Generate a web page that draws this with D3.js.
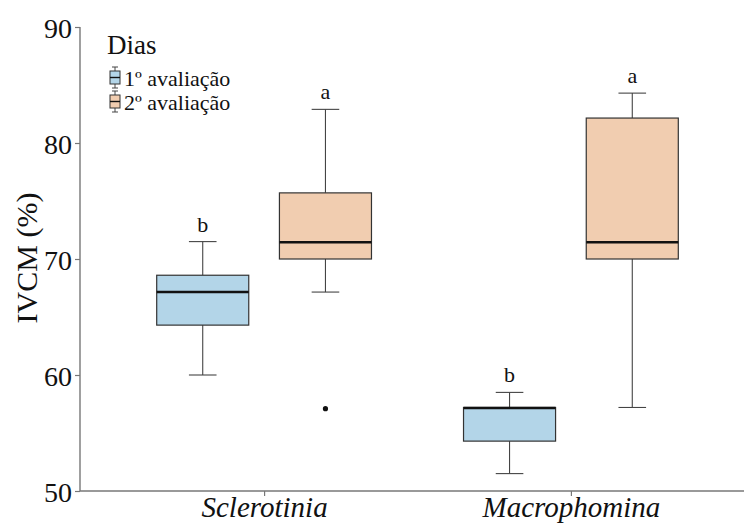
<!DOCTYPE html>
<html>
<head>
<meta charset="utf-8">
<script src="https://d3js.org/d3.v7.min.js"></script>
<style>
  body { margin: 0; background: white; }
  svg text { font-family: "Liberation Serif", "Times New Roman", serif; fill: #111; }
</style>
</head>
<body>
<svg id="chart" width="744" height="523"></svg>
<script>
// pathogen on x, evaluation day as fill
var categories = ["Sclerotinia", "Macrophomina"];
var groups = ["1º avaliação", "2º avaliação"];
var fills = ["#b3d5e8", "#f1cdb0"];

// box stats per group, one entry per category: [lower, q1, median, q3, upper]
var stats1 = [[60.0, 64.3, 67.15, 68.6, 71.5], [51.5, 54.3, 57.15, 57.2, 58.5]];
var stats2 = [[67.15, 70.0, 71.45, 75.7, 82.9], [57.2, 70.0, 71.45, 82.15, 84.3]];
var outliers1 = [[], []];
var outliers2 = [[57.1], []];
var letters1 = ["b", "b"];
var letters2 = ["a", "a"];

var yTicks = [50, 60, 70, 80, 90];

var svg = d3.select("#chart");
var mLeft = 80, mRight = 755, mTop = 27, mBottom = 491;

var x = d3.scalePoint().domain(categories).range([mLeft, mRight]).padding(0.6);
var y = d3.scaleLinear().domain([50, 90]).range([mBottom, mTop]);
var step = x.step();
var dodge = step * 0.2, boxW = step * 0.3, capW = step * 0.09;

var rows = [];
categories.forEach(function (c, i) {
  rows.push({cat: c, g: 0, s: stats1[i], out: outliers1[i], lab: letters1[i]});
  rows.push({cat: c, g: 1, s: stats2[i], out: outliers2[i], lab: letters2[i]});
});
rows.forEach(function (r) { r.cx = x(r.cat) + (r.g == 0 ? -dodge : dodge); });

// axes
var yAxis = svg.append("g").attr("transform", "translate(" + mLeft + ",0)")
  .call(d3.axisLeft(y).tickValues(yTicks).tickSize(5).tickPadding(3));
var xAxis = svg.append("g").attr("transform", "translate(0," + mBottom + ")")
  .call(d3.axisBottom(x).tickSize(5).tickPadding(2));
[yAxis, xAxis].forEach(function (a) {
  a.select(".domain").attr("stroke", "#777").attr("stroke-width", 1.4);
  a.selectAll(".tick line").attr("stroke", "#777").attr("stroke-width", 1.2);
});
yAxis.selectAll("text").attr("font-size", 28).attr("fill", "#111").attr("dy", "0.36em")
  .style("font-family", "Liberation Serif");
xAxis.selectAll("text").attr("font-size", 29).attr("font-style", "italic").attr("fill", "#111")
  .attr("dy", "0.66em").style("font-family", "Liberation Serif");
yAxis.select(".domain").attr("d", "M0," + mBottom + "V" + mTop);
xAxis.select(".domain").attr("d", "M" + mLeft + ",0H" + mRight);

svg.append("text")
  .attr("transform", "translate(37,258) rotate(-90)")
  .attr("text-anchor", "middle").attr("font-size", 30).text("IVCM (%)");

// boxes
var box = svg.selectAll("g.box").data(rows).join("g").attr("class", "box");
box.append("line")
  .attr("x1", d => d.cx).attr("x2", d => d.cx)
  .attr("y1", d => y(d.s[4])).attr("y2", d => y(d.s[3]))
  .attr("stroke", "#444").attr("stroke-width", 1.1);
box.append("line")
  .attr("x1", d => d.cx).attr("x2", d => d.cx)
  .attr("y1", d => y(d.s[1])).attr("y2", d => y(d.s[0]))
  .attr("stroke", "#444").attr("stroke-width", 1.1);
box.selectAll("line.cap").data(d => [d, d].map((e, k) => ({cx: e.cx, v: e.s[k * 4]})))
  .join("line").attr("class", "cap")
  .attr("x1", d => d.cx - capW / 2).attr("x2", d => d.cx + capW / 2)
  .attr("y1", d => y(d.v)).attr("y2", d => y(d.v))
  .attr("stroke", "#444").attr("stroke-width", 1.1);
box.append("rect")
  .attr("x", d => d.cx - boxW / 2).attr("width", boxW)
  .attr("y", d => y(d.s[3])).attr("height", d => y(d.s[1]) - y(d.s[3]))
  .attr("fill", d => fills[d.g]).attr("stroke", "#333").attr("stroke-width", 1.2);
box.append("line")
  .attr("x1", d => d.cx - boxW / 2).attr("x2", d => d.cx + boxW / 2)
  .attr("y1", d => y(d.s[2])).attr("y2", d => y(d.s[2]))
  .attr("stroke", "#111").attr("stroke-width", 2.4);
box.selectAll("circle").data(d => d.out.map(v => ({cx: d.cx, v: v})))
  .join("circle").attr("cx", d => d.cx).attr("cy", d => y(d.v)).attr("r", 2.6).attr("fill", "#111");
box.append("text")
  .attr("x", d => d.cx).attr("y", d => y(d.s[4]) - 10)
  .attr("text-anchor", "middle").attr("font-size", 22).text(d => d.lab);

// legend
var leg = svg.append("g");
leg.append("text").attr("x", 107).attr("y", 54).attr("font-size", 27).text("Dias");
var item = leg.selectAll("g.item").data(groups).join("g").attr("class", "item")
  .attr("transform", (d, i) => "translate(0," + (i * 24) + ")");
item.append("line").attr("x1", 115).attr("x2", 115).attr("y1", 67).attr("y2", 88)
  .attr("stroke", "#444").attr("stroke-width", 1);
item.selectAll("line.c").data([67, 88]).join("line").attr("class", "c")
  .attr("x1", 112).attr("x2", 118).attr("y1", d => d).attr("y2", d => d)
  .attr("stroke", "#444").attr("stroke-width", 1);
item.append("rect").attr("x", 110).attr("y", 71).attr("width", 10).attr("height", 13)
  .attr("fill", (d, i) => fills[i]).attr("stroke", "#333").attr("stroke-width", 1);
item.append("line").attr("x1", 110).attr("x2", 120).attr("y1", 77.5).attr("y2", 77.5)
  .attr("stroke", "#111").attr("stroke-width", 1.4);
item.append("text").attr("x", 124).attr("y", 86).attr("font-size", 22).text(d => d);
</script>
</body>
</html>
